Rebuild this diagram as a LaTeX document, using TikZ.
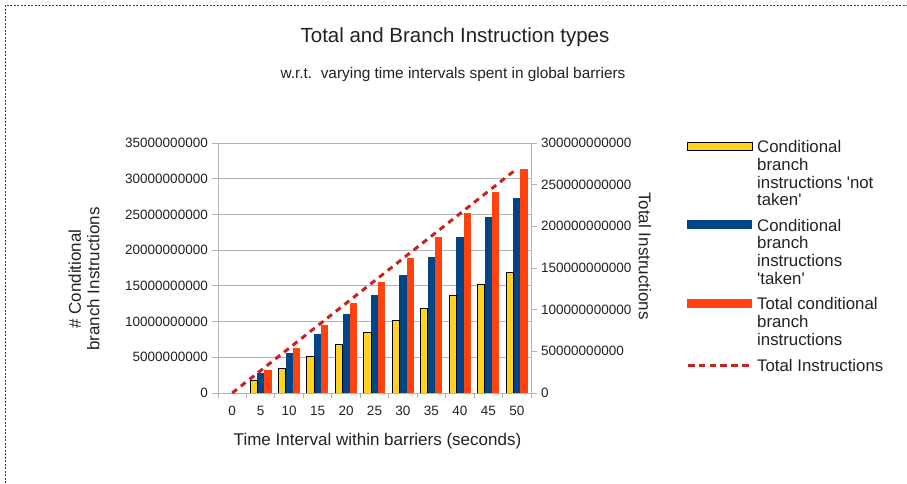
\documentclass[tikz,border=0pt]{standalone}
\usepackage{fontspec}
\setmainfont{Liberation Sans}
\definecolor{ybar}{HTML}{FFD320}
\definecolor{bbar}{HTML}{004586}
\definecolor{obar}{HTML}{FF420E}
\definecolor{rline}{HTML}{C9211E}
\definecolor{gridc}{HTML}{B3B3B3}
\definecolor{txt}{HTML}{222222}
\begin{document}
\begin{tikzpicture}[x=1pt,y=-1pt,
  ticklab/.style={font=\fontsize{13.5}{16}\selectfont, text=txt, inner sep=0pt},
  axtitle/.style={font=\fontsize{17}{18}\selectfont, text=txt, inner sep=0pt},
  legtext/.style={font=\fontsize{16.8}{17.7}\selectfont, text=txt, inner sep=0pt, align=left, anchor=west},
  gridline/.style={draw=gridc, line width=1pt},
  framebd/.style={draw=black!75, line width=0.8pt, dash pattern=on 2pt off 1.5pt},
  totline/.style={draw=rline, line width=3pt, dash pattern=on 6pt off 5pt}]
\useasboundingbox (0,0) rectangle (907,483);
% outer dashed frame (top and left)
\draw[framebd] (5,483) -- (5,5) -- (907,5);
% titles
\node[font=\fontsize{20.5}{22}\selectfont, text=txt, inner sep=0pt] (title) at (455,37) {Total and Branch Instruction types};
\node[font=\fontsize{15.4}{17}\selectfont, text=txt, inner sep=0pt] (subtitle) at (453,75) {w.r.t.\ \ varying time intervals spent in global barriers};
% horizontal gridlines (left axis)
\foreach \k in {1,...,7} {
  \draw[gridline] (218,{393-\k*35.714}) -- (531,{393-\k*35.714});
}
% bars
\foreach \i/\ya/\yb/\yc in {0/0/0/0.05, 1/1.78/2.75/3.17, 2/3.4/5.55/6.25, 3/5.09/8.2/9.47, 4/6.8/11.0/12.55, 5/8.5/13.7/15.6, 6/10.2/16.5/18.85, 7/11.85/19.1/21.9, 8/13.6/21.9/25.15, 9/15.2/24.6/28.2, 10/16.9/27.25/31.3} {
  \pgfmathsetmacro\xa{218+\i*28.4545+3.5}
  \fill[bbar] ({\xa+7.2},393) rectangle ({\xa+14.4},{393-\yb*7.1429});
  \fill[obar] ({\xa+14.4},393) rectangle ({\xa+21.6},{393-\yc*7.1429});
  \filldraw[fill=ybar, draw=black, line width=0.9pt] (\xa,393) rectangle ({\xa+7.2},{393-\ya*7.1429});
}
% axes
\draw[gridline] (218,143) -- (218,398);
\draw[gridline] (531,143) -- (531,398);
\draw[gridline] (212,393) -- (531,393);
% left ticks and labels
\foreach \k/\lab in {0/0, 1/5000000000, 2/10000000000, 3/15000000000, 4/20000000000, 5/25000000000, 6/30000000000, 7/35000000000} {
  \draw[gridline] (212,{393-\k*35.714}) -- (218,{393-\k*35.714});
  \node[ticklab, anchor=east] (l\k) at (208,{393-\k*35.714}) {\lab};
}
% right ticks and labels
\foreach \k/\lab in {0/0, 1/50000000000, 2/100000000000, 3/150000000000, 4/200000000000, 5/250000000000, 6/300000000000} {
  \draw[gridline] (531,{393-\k*41.667}) -- (537,{393-\k*41.667});
  \node[ticklab, anchor=west] (r\k) at (541,{393-\k*41.667}) {\lab};
}
% category ticks and labels
\foreach \i in {0,...,11} {
  \draw[gridline] ({218+\i*28.4545},393) -- ({218+\i*28.4545},398);
}
\foreach \i in {0,...,10} {
  \pgfmathtruncatemacro\v{\i*5}
  \node[ticklab] (c\i) at ({218+(\i+0.5)*28.4545},410.5) {\v};
}
% total instructions line
\coordinate (t0) at (232.2,393);
\coordinate (t50) at (516.2,169.3);
\draw[totline] (t0) -- (t50);
% axis titles
\node[axtitle, rotate=90, align=center] (ytitle) at (84,279) {\# Conditional\\[0.5pt]branch Instructions};
\node[axtitle, rotate=-90] (y2title) at (645,256) {Total Instructions};
\node[axtitle] (xtitle) at (377.5,441.5) {Time Interval within barriers (seconds)};
% legend
\filldraw[fill=ybar, draw=black, line width=0.9pt] (687.5,142.5) rectangle (752,150.5);
\fill[bbar] (687,220) rectangle (752,229);
\fill[obar] (687,299) rectangle (752,308);
\coordinate (la) at (688,365);
\coordinate (lb) at (752,365);
\draw[draw=rline, line width=3pt, dash pattern=on 6.5pt off 4.3pt] (la) -- (lb);
\node[legtext] (leg1) at (757,173.4) {Conditional\\branch\\instructions \textquotesingle not\\taken\textquotesingle};
\node[legtext] (leg2) at (757,251.7) {Conditional\\branch\\instructions\\\textquotesingle taken\textquotesingle};
\node[legtext] (leg3) at (757,321.3) {Total conditional\\branch\\instructions};
\node[legtext] (leg4) at (757,365) {Total Instructions};
\end{tikzpicture}
\end{document}
